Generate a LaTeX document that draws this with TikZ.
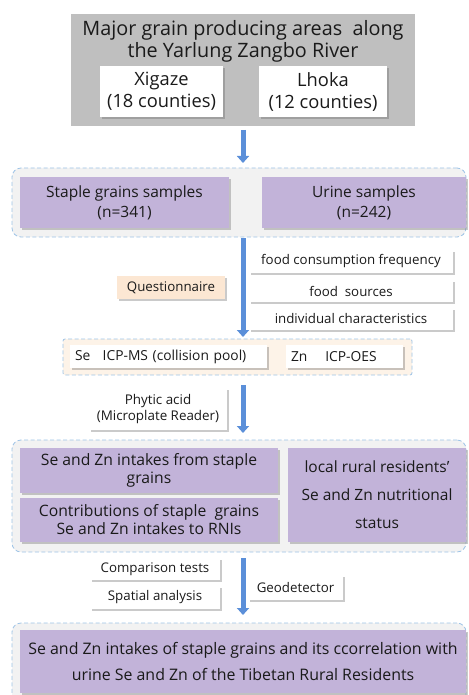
\documentclass[tikz,border=0pt]{standalone}
\usepackage{fontspec}
\setmainfont{Open Sans}
\usetikzlibrary{shadows,arrows.meta,calc}
\definecolor{grayfill}{HTML}{BFBFBF}
\definecolor{grpfill}{HTML}{F2F2F2}
\definecolor{grpline}{HTML}{9DC3E6}
\definecolor{lav}{HTML}{C2B3D9}
\definecolor{peach}{HTML}{FCE7D3}
\definecolor{peachlt}{HTML}{FDF3E8}
\definecolor{arrowc}{HTML}{5B8FD9}
\definecolor{txt}{HTML}{1A1A1A}
\begin{document}
\begin{tikzpicture}[x=1pt,y=-1pt,
  every node/.style={inner sep=0pt, outer sep=0pt, text=txt, align=center},
  shad/.style={drop shadow={shadow xshift=1.6pt, shadow yshift=-1.6pt, opacity=0.35, fill=black!60}},
  wbox/.style={fill=white, shad},
  lbox/.style={fill=lav, shad},
  pbox/.style={fill=peach, shad},
  small/.style={font=\fontsize{13.3}{15}\selectfont},
  grp/.style={draw=grpline, fill=grpfill, dash pattern=on 4pt off 2.5pt, line width=0.8pt, rounded corners=9pt},
  bigarrow/.style={draw=arrowc, line width=5pt, -{Triangle[width=12pt,length=7pt]}}
]
\useasboundingbox (0,0) rectangle (468,695);
% top
\node[fill=grayfill, minimum width=344pt, minimum height=112pt] (top) at (243,70) {};
\node[font=\fontsize{19.8}{22}\selectfont] (ttl) at (243,41) {Major grain producing areas\ \ along\\the Yarlung Zangbo River};
\node[wbox, minimum width=123pt, minimum height=51pt, font=\fontsize{18.3}{22}\selectfont] (xig) at (161.5,91.5) {Xigaze\\(18 counties)};
\node[wbox, minimum width=128pt, minimum height=51pt, font=\fontsize{18.3}{22}\selectfont] (lho) at (323,91.5) {Lhoka\\(12 counties)};
% group 1
\node[grp, minimum width=454pt, minimum height=69pt] (g1) at (239,202.5) {};
\node[lbox, minimum width=209pt, minimum height=51pt, font=\fontsize{15.5}{20}\selectfont] (stap) at (124.5,202.5) {Staple grains samples\\(n=341)};
\node[lbox, minimum width=204pt, minimum height=51pt, font=\fontsize{15.5}{20}\selectfont] (urin) at (364,202.5) {Urine samples\\(n=242)};
% questionnaire
\node[pbox, minimum width=108pt, minimum height=23pt, small] (q) at (171,287.5) {Questionnaire};
\node[wbox, minimum width=204pt, minimum height=23pt, small] (f1) at (351,261.5) {food consumption frequency};
\node[wbox, minimum width=204pt, minimum height=22pt, small] (f2) at (351,291) {food\ \ sources};
\node[wbox, minimum width=204pt, minimum height=22pt, small] (f3) at (351,319) {individual characteristics};
% group 2
\node[grp, fill=peachlt, rounded corners=2pt, minimum width=349pt, minimum height=36pt] (g2) at (237.5,357) {};
\node[wbox, minimum width=197pt, minimum height=23pt, font=\fontsize{13.8}{15}\selectfont, text width=187pt, align=left] (se) at (168.5,356.5) {Se\hspace{0.9em}ICP-MS (collision pool)};
\node[wbox, minimum width=117pt, minimum height=23pt, font=\fontsize{13.8}{15}\selectfont, text width=107pt, align=left] (zn) at (344.5,356.5) {Zn\hspace{1.3em}ICP-OES};
% phytic
\node[wbox, minimum width=138pt, minimum height=42pt, font=\fontsize{13.4}{16}\selectfont] (phy) at (158,409) {Phytic acid\\(Microplate Reader)};
% group 3
\node[grp, minimum width=454pt, minimum height=112pt] (g3) at (239,496) {};
\node[lbox, minimum width=258pt, minimum height=45pt, font=\fontsize{15.7}{18}\selectfont] (in1) at (149,470.5) {Se and Zn intakes from staple\\grains};
\node[lbox, minimum width=258pt, minimum height=44pt, font=\fontsize{15.7}{18}\selectfont] (con) at (149,520) {Contributions of staple\ \ grains\\Se and Zn intakes to RNIs};
\node[lbox, minimum width=178pt, minimum height=94pt, font=\fontsize{15.5}{28}\selectfont] (loc) at (377,495) {local rural residents'\\Se and Zn nutritional\\status};
% analyses
\node[wbox, minimum width=130pt, minimum height=22pt, small] (cmp) at (155,569) {Comparison tests};
\node[wbox, minimum width=130pt, minimum height=23pt, small] (spa) at (155,597.5) {Spatial analysis};
\node[wbox, minimum width=95pt, minimum height=25pt, small] (geo) at (295.5,587.5) {Geodetector};
% group 4
\node[grp, minimum width=454pt, minimum height=90pt] (g4) at (239,668) {};
\node[lbox, minimum width=446pt, minimum height=63pt, font=\fontsize{15.9}{26}\selectfont] (fin) at (243,661.5) {Se and Zn intakes of staple grains and its ccorrelation with\\urine Se and Zn of the Tibetan Rural Residents};
% arrows
\draw[bigarrow, shorten <=4pt, shorten >=5pt] (top.south) -- (top.south |- g1.north);
\draw[bigarrow, shorten <=1pt, shorten >=2pt] (top.south |- g1.south) -- (top.south |- g2.north);
\draw[bigarrow, shorten <=10pt, shorten >=7pt] (top.south |- g2.south) -- (top.south |- g3.north);
\draw[bigarrow, shorten <=6pt, shorten >=8pt] (top.south |- g3.south) -- (top.south |- g4.north);
\end{tikzpicture}
\end{document}
